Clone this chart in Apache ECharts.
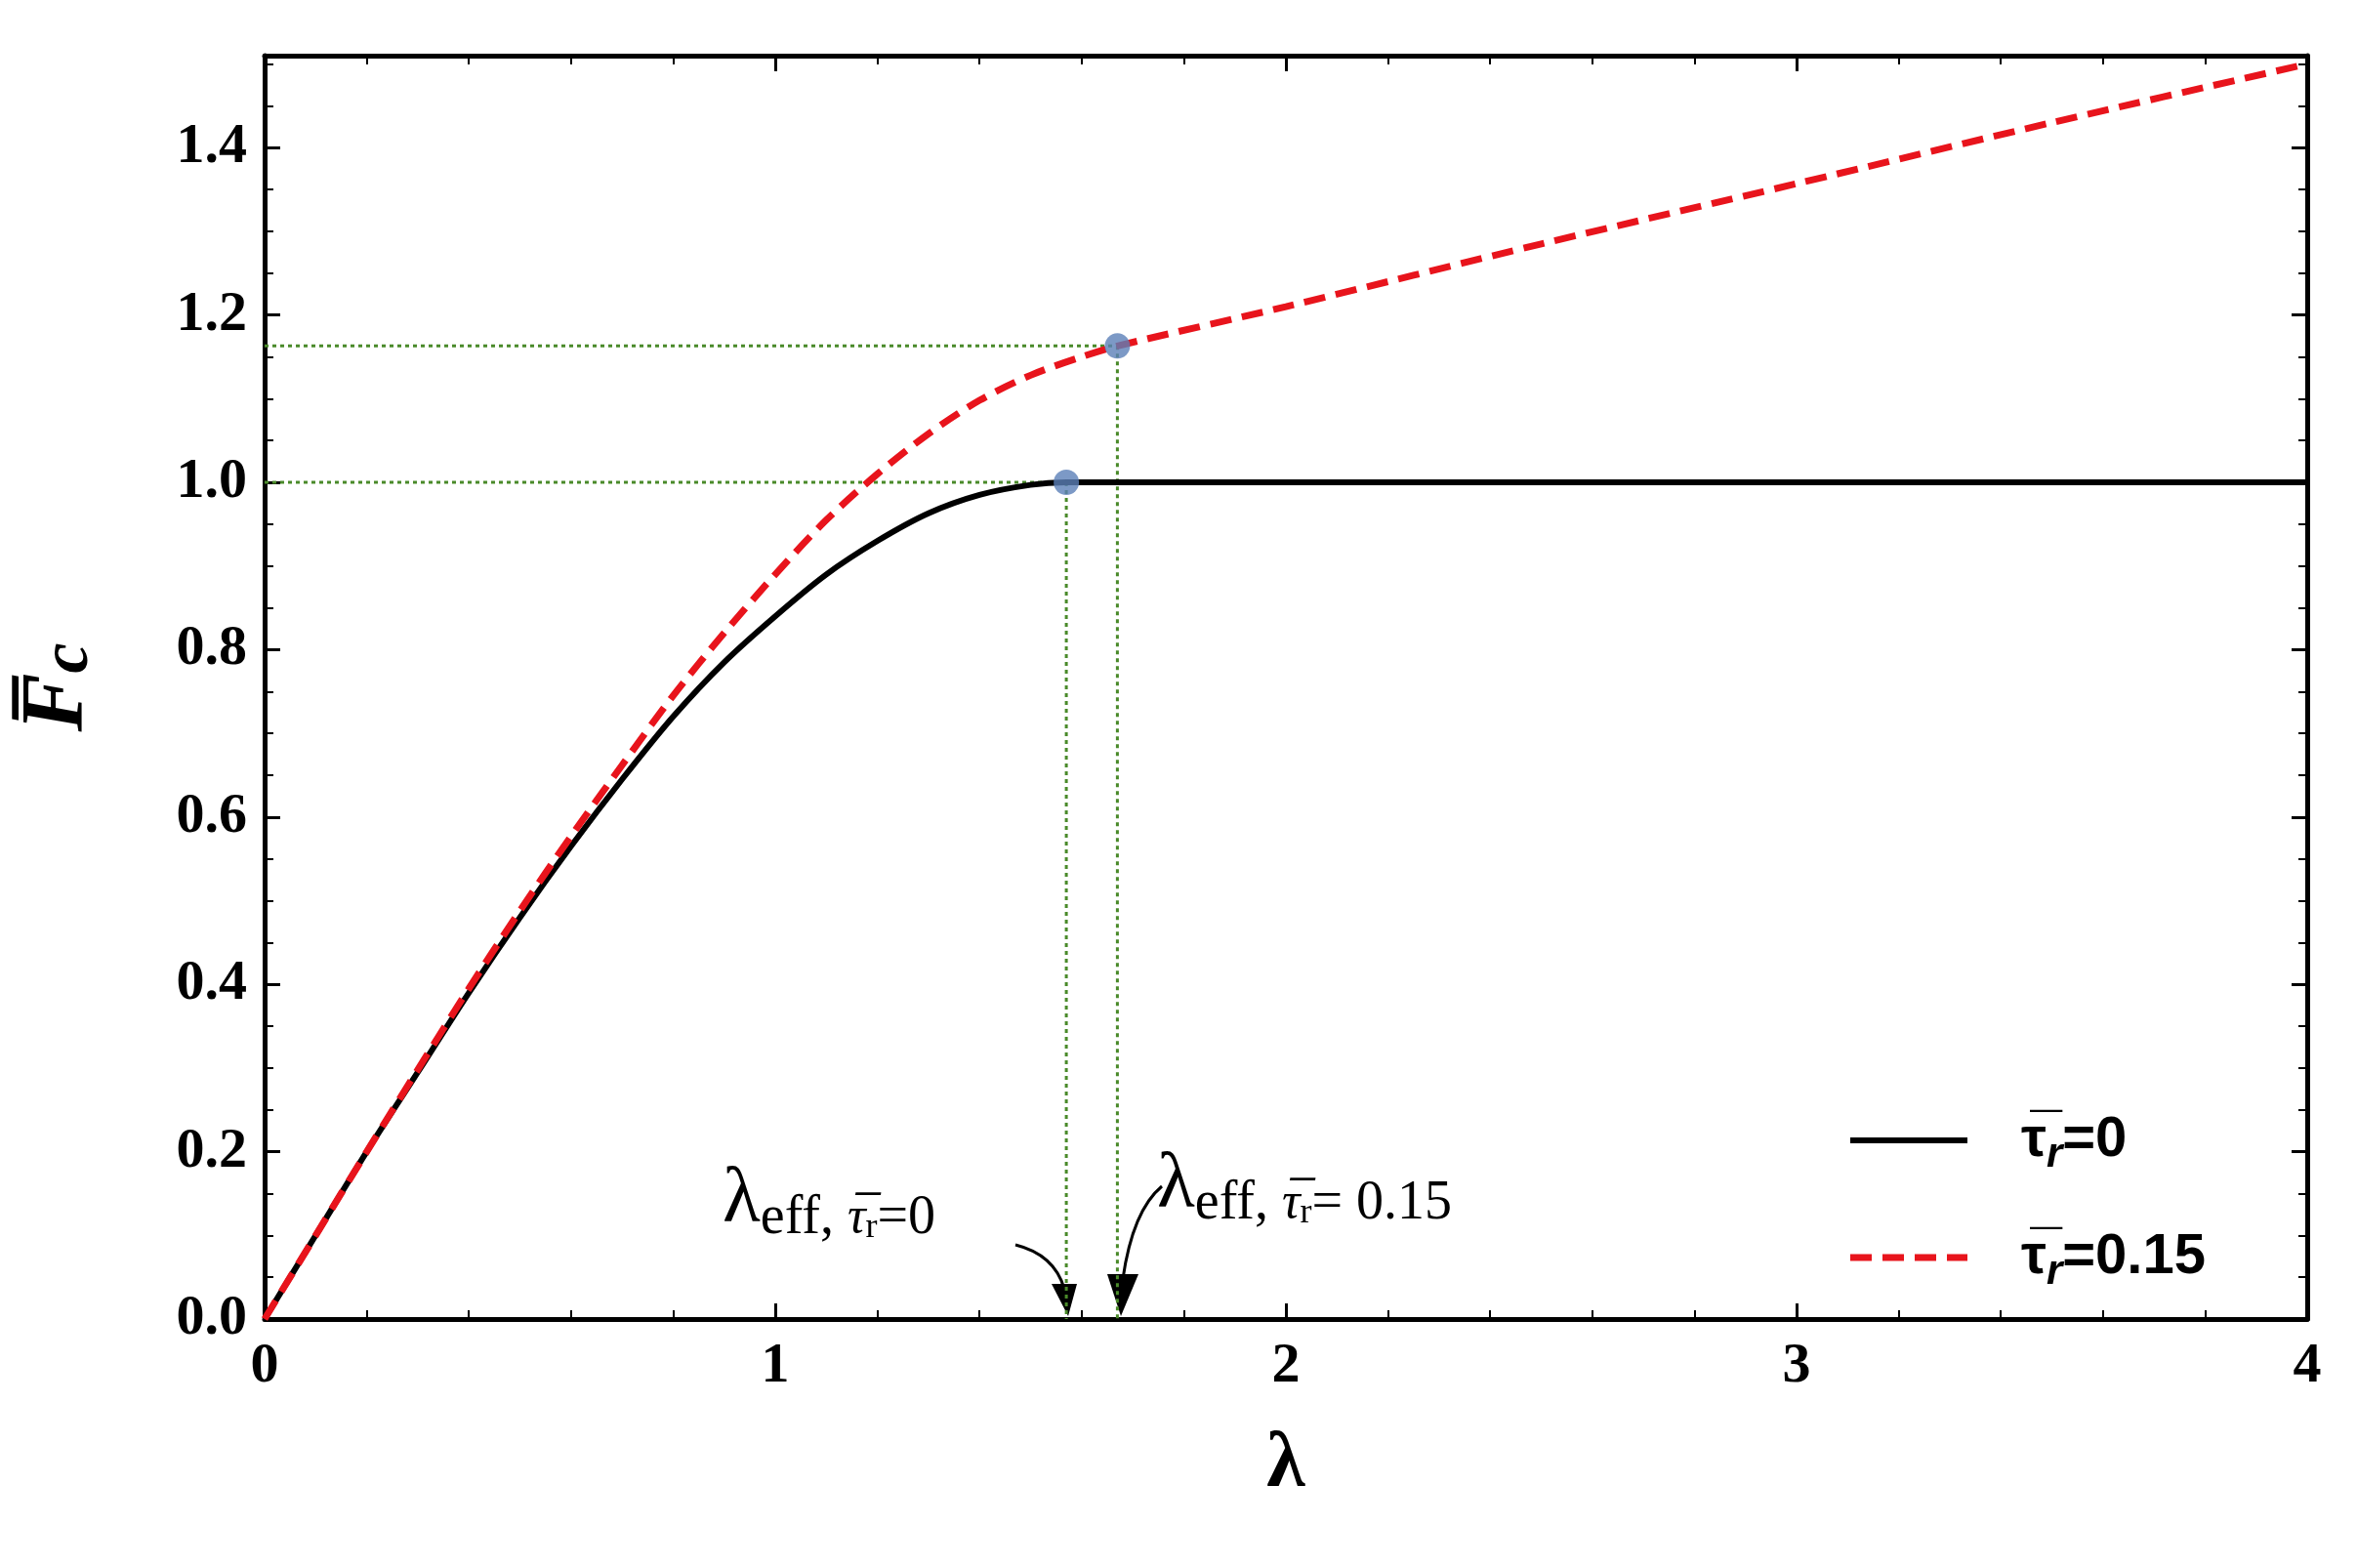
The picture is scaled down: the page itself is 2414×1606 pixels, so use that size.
<!DOCTYPE html>
<html><head><meta charset="utf-8">
<script src="https://cdn.jsdelivr.net/npm/echarts@6/dist/echarts.min.js"></script>
<style>html,body{margin:0;background:#fff}#main{width:2414px;height:1606px}</style>
</head><body><div id="main"></div>
<script>
// 读图得到的数据
var tau0X = [0, 0.1, 0.2, 0.3, 0.4, 0.5, 0.6, 0.7, 0.8, 0.9, 1.0, 1.1, 1.2, 1.3, 1.4, 1.5, 1.57, 2, 3, 4];
var tau0Y = [0, 0.1, 0.2, 0.295, 0.39, 0.48, 0.565, 0.645, 0.72, 0.785, 0.84, 0.89, 0.93, 0.963, 0.985, 0.997, 1.0, 1.0, 1.0, 1.0];
var tau15X = [0, 0.1, 0.2, 0.3, 0.4, 0.5, 0.6, 0.7, 0.8, 0.9, 1.0, 1.1, 1.2, 1.3, 1.4, 1.5, 1.6, 1.67, 2, 2.5, 3, 3.5, 4];
var tau15Y = [0, 0.1, 0.2, 0.298, 0.395, 0.488, 0.577, 0.662, 0.745, 0.82, 0.89, 0.955, 1.01, 1.058, 1.098, 1.128, 1.15, 1.163, 1.21, 1.285, 1.357, 1.43, 1.5];
var effX = [1.57, 1.67];
var effY = [1.0, 1.163];
var xTicks = [0, 1, 2, 3, 4];

function pairs(xs, ys) { return xs.map(function (x, i) { return [x, ys[i]]; }); }

var chart = echarts.init(document.getElementById('main'));
var serif = 'Liberation Serif';
var guideData = [];
effX.forEach(function (x, i) {
  guideData.push([[0, effY[i]], [x, effY[i]]]);
  guideData.push([[x, effY[i]], [x, 0]]);
});
var xBase = {type: 'value', min: 0, max: 4, interval: 1,
  axisLine: {show: true, onZero: false, lineStyle: {color: '#000', width: 5}},
  axisTick: {inside: true, length: 16, lineStyle: {width: 3, color: '#000'}},
  minorTick: {show: true, splitNumber: 5, length: 9, lineStyle: {width: 2, color: '#000'}},
  splitLine: {show: false}};
var yBase = {type: 'value', min: 0, max: 1.51, interval: 0.2,
  axisLine: {show: true, onZero: false, lineStyle: {color: '#000', width: 5}},
  axisTick: {inside: true, length: 16, lineStyle: {width: 3, color: '#000'}},
  minorTick: {show: true, splitNumber: 4, length: 9, lineStyle: {width: 2, color: '#000'}},
  splitLine: {show: false}};

chart.setOption({
  animation: false,
  grid: {left: 271, right: 51, top: 57, bottom: 255},
  xAxis: [
    Object.assign({}, xBase, {position: 'bottom',
      axisLabel: {fontFamily: serif, fontWeight: 'bold', fontSize: 58, color: '#000', margin: 20},
      name: 'λ', nameLocation: 'middle', nameGap: 110,
      nameTextStyle: {fontFamily: serif, fontWeight: 'bold', fontSize: 80, color: '#000'}}),
    Object.assign({}, xBase, {position: 'top', axisLabel: {show: false}})
  ],
  yAxis: [
    Object.assign({}, yBase, {position: 'left',
      axisLabel: {fontFamily: serif, fontWeight: 'bold', fontSize: 58, color: '#000', margin: 18,
        formatter: function (v) { return v > 1.45 ? '' : v.toFixed(1); }},
      name: 'F̅{s|c}', nameLocation: 'middle', nameGap: 165, nameRotate: 90,
      nameTextStyle: {fontFamily: serif, fontWeight: 'bold', fontStyle: 'italic', fontSize: 90, color: '#000',
        rich: {s: {fontFamily: serif, fontWeight: 'bold', fontStyle: 'italic', fontSize: 70, verticalAlign: 'bottom'}}}}),
    Object.assign({}, yBase, {position: 'right', axisLabel: {show: false}})
  ],
  series: [
    {type: 'lines', coordinateSystem: 'cartesian2d', polyline: true, silent: true,
      data: guideData.map(function (c) { return {coords: c}; }),
      lineStyle: {color: '#4a8a2a', width: 3, type: [4, 4], opacity: 1}, z: 1},
    {name: 'tau0', type: 'line', data: pairs(tau0X, tau0Y), smooth: 0.3, showSymbol: false,
      lineStyle: {color: '#000', width: 6}, z: 3},
    {name: 'tau15', type: 'line', data: pairs(tau15X, tau15Y), smooth: 0.3, showSymbol: false,
      lineStyle: {color: '#e8141c', width: 7, type: [22, 11]}, z: 4},
    {type: 'scatter', data: pairs(effX, effY), symbolSize: 26,
      itemStyle: {color: '#5b80b8'}, z: 5}
  ],
  graphic: [
    // 图例
    {type: 'line', shape: {x1: 1895, y1: 1168, x2: 2015, y2: 1168}, style: {stroke: '#000', lineWidth: 6}},
    {type: 'line', shape: {x1: 1895, y1: 1288, x2: 2015, y2: 1288}, style: {stroke: '#e8141c', lineWidth: 7, lineDash: [22, 11]}},
    {type: 'text', x: 2070, y: 1168, style: {text: '{t|τ̅}{s|r}{t|=0}', verticalAlign: 'middle',
      rich: {t: {fontFamily: 'Liberation Sans', fontWeight: 'bold', fontSize: 58, fill: '#000'},
        s: {fontFamily: 'Liberation Sans', fontWeight: 'bold', fontStyle: 'italic', fontSize: 42, fill: '#000', padding: [30, 0, 0, 0]}}}},
    {type: 'text', x: 2070, y: 1288, style: {text: '{t|τ̅}{s|r}{t|=0.15}', verticalAlign: 'middle',
      rich: {t: {fontFamily: 'Liberation Sans', fontWeight: 'bold', fontSize: 58, fill: '#000'},
        s: {fontFamily: 'Liberation Sans', fontWeight: 'bold', fontStyle: 'italic', fontSize: 42, fill: '#000', padding: [30, 0, 0, 0]}}}},
    // 标注
    {type: 'text', x: 740, y: 1230, style: {text: '{l|λ}{s|eff, }{i|τ̅}{r|r}{s|=0}', verticalAlign: 'middle',
      rich: {l: {fontFamily: serif, fontSize: 80, fill: '#000'}, s: {fontFamily: serif, fontSize: 56, fill: '#000', padding: [36, 0, 0, 0]},
        i: {fontFamily: serif, fontStyle: 'italic', fontSize: 52, fill: '#000', padding: [36, 0, 0, 0]},
        r: {fontFamily: serif, fontSize: 36, fill: '#000', padding: [56, 0, 0, 0]}}}},
    {type: 'text', x: 1185, y: 1215, style: {text: '{l|λ}{s|eff, }{i|τ̅}{r|r}{s|= 0.15}', verticalAlign: 'middle',
      rich: {l: {fontFamily: serif, fontSize: 80, fill: '#000'}, s: {fontFamily: serif, fontSize: 56, fill: '#000', padding: [36, 0, 0, 0]},
        i: {fontFamily: serif, fontStyle: 'italic', fontSize: 52, fill: '#000', padding: [36, 0, 0, 0]},
        r: {fontFamily: serif, fontSize: 36, fill: '#000', padding: [56, 0, 0, 0]}}}},
    {type: 'bezierCurve', shape: {x1: 1040, y1: 1275, cpx1: 1080, cpy1: 1285, x2: 1090, y2: 1320}, style: {stroke: '#000', lineWidth: 3, fill: null}},
    {type: 'polygon', shape: {points: [[1077, 1315], [1103, 1315], [1094, 1348]]}, style: {fill: '#000'}},
    {type: 'bezierCurve', shape: {x1: 1190, y1: 1215, cpx1: 1160, cpy1: 1240, x2: 1150, y2: 1310}, style: {stroke: '#000', lineWidth: 3, fill: null}},
    {type: 'polygon', shape: {points: [[1134, 1305], [1166, 1305], [1148, 1348]]}, style: {fill: '#000'}}
  ]
});
</script>
</body></html>
